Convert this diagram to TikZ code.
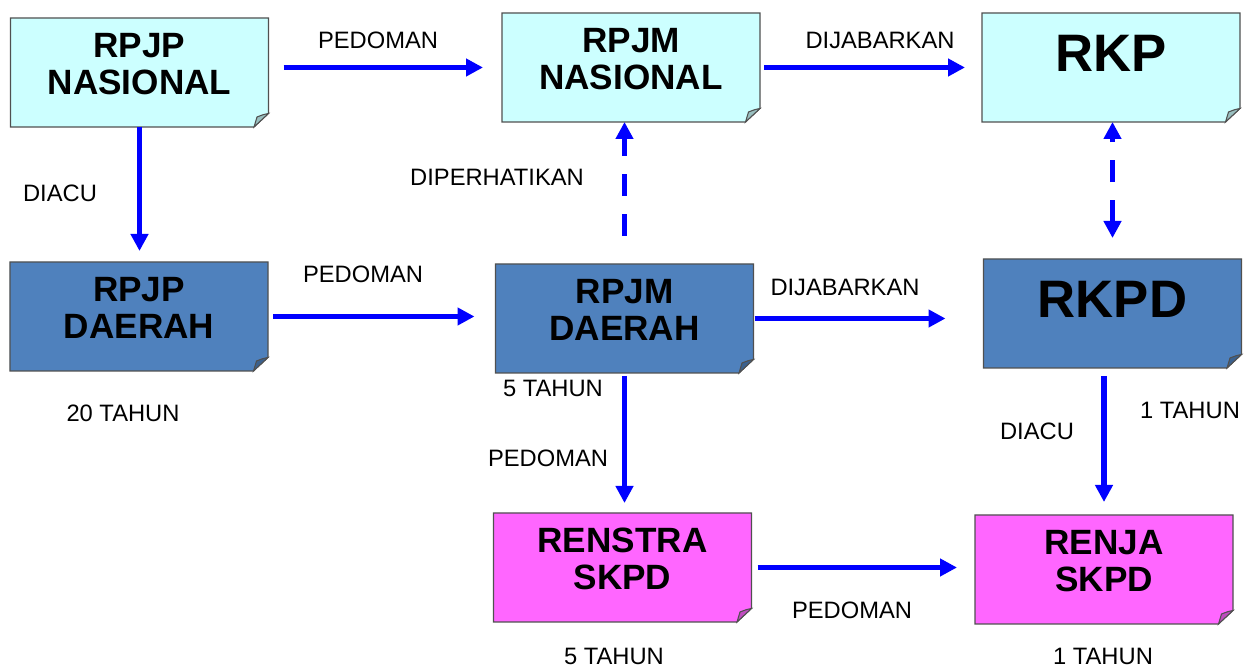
\documentclass[tikz,border=0pt]{standalone}
\usepackage{fontspec}
\setmainfont{Liberation Sans}
\usetikzlibrary{arrows.meta,backgrounds}

\definecolor{nascyan}{HTML}{CCFFFF}
\definecolor{daerahblue}{HTML}{4F81BD}
\definecolor{skpdpink}{HTML}{FF66FF}
\definecolor{edgegray}{HTML}{505050}
\definecolor{arrowblue}{HTML}{0000FF}

\newcommand{\boxlines}[2][2pt]{\raisebox{#1}[\height][\depth]{\begin{tabular}{@{}c@{}}#2\end{tabular}}}

\begin{document}
\begin{tikzpicture}[
    >={Triangle[width=0.34cm,length=0.34cm]},
    doc/.style={rectangle, minimum width=5.16cm, minimum height=2.18cm, inner sep=0pt, outer sep=0pt,
        font=\fontsize{20}{21}\selectfont\bfseries},
    bigdoc/.style={doc, font=\fontsize{30}{31}\selectfont\bfseries},
    flow/.style={->, line width=0.11cm, draw=arrowblue},
    flowdash/.style={flow, dash pattern=on 0.44cm off 0.36cm},
    lbl/.style={font=\fontsize{13.5}{15}\selectfont, inner sep=0pt}
  ]
  \useasboundingbox (0,0) rectangle (24.94,13.34);

  % dokumen perencanaan
  \node[doc] (rpjpn) at (2.79,11.89) {\boxlines{RPJP\\NASIONAL}};
  \node[doc] (rpjmn) at (12.62,11.99) {\boxlines{RPJM\\NASIONAL}};
  \node[bigdoc] (rkp) at (22.22,11.99) {\boxlines[4pt]{RKP}};
  \node[doc] (rpjpd) at (2.78,7.01) {\boxlines{RPJP\\DAERAH}};
  \node[doc] (rpjmd) at (12.49,6.97) {\boxlines{RPJM\\DAERAH}};
  \node[bigdoc] (rkpd) at (22.25,7.07) {\boxlines[4pt]{RKPD}};
  \node[doc] (renstra) at (12.45,1.99) {\boxlines{RENSTRA\\SKPD}};
  \node[doc] (renja) at (22.08,1.95) {\boxlines{RENJA\\SKPD}};

  % kertas dengan sudut terlipat
  \begin{scope}[on background layer]
    \foreach \n/\c in {rpjpn/nascyan, rpjmn/nascyan, rkp/nascyan, rpjpd/daerahblue,
        rpjmd/daerahblue, rkpd/daerahblue, renstra/skpdpink, renja/skpdpink} {
      \filldraw[fill=\c, draw=edgegray, line width=0.6pt]
        (\n.north west) -- (\n.north east) -- ([yshift=0.27cm]\n.south east)
        -- ([xshift=-0.29cm]\n.south east) -- (\n.south west) -- cycle;
      \filldraw[fill=\c!75!black, draw=edgegray, line width=0.6pt]
        ([yshift=0.27cm]\n.south east) .. controls ([xshift=-0.1cm, yshift=0.25cm]\n.south east)
        .. ([xshift=-0.23cm, yshift=0.2cm]\n.south east)
        .. controls ([xshift=-0.25cm, yshift=0.1cm]\n.south east) .. ([xshift=-0.29cm]\n.south east)
        -- cycle;
    }
  \end{scope}

  % panah
  \draw[flow, shorten <=0.3cm, shorten >=0.38cm] (rpjpn.east |- rpjmn.west) -- (rpjmn.west);
  \draw[flow, shorten <=0.08cm, shorten >=0.34cm] (rpjmn.east) -- (rkp.west);
  \draw[flow, shorten >=0.22cm] (rpjpn.south) -- (rpjpn.south |- rpjpd.north);
  \draw[flowdash, shorten <=0.56cm] (rpjmd.north) -- (rpjmd.north |- rpjmn.south);
  \draw[flowdash, <->, shorten <=0.42cm] (rkpd.north) -- (rkpd.north |- rkp.south);
  \draw[flow, shorten <=0.1cm, shorten >=0.42cm] (rpjpd.east) -- (rpjpd.east -| rpjmd.west);
  \draw[flow, shorten <=0.02cm, shorten >=0.76cm] (rpjmd.east) -- (rpjmd.east -| rkpd.west);
  \draw[flow, shorten <=0.06cm, shorten >=0.2cm] (rpjmd.south) -- (rpjmd.south |- renstra.north);
  \draw[flow, shorten <=0.16cm, shorten >=0.26cm] (renja.north |- rkpd.south) -- (renja.north);
  \draw[flow, shorten <=0.12cm, shorten >=0.36cm] (renstra.east) -- (renstra.east -| renja.west);

  % keterangan
  \node[lbl] (pedoman1) at (7.56,12.54) {PEDOMAN};
  \node[lbl] (dijabarkan1) at (17.6,12.54) {DIJABARKAN};
  \node[lbl] (diacu1) at (1.2,9.48) {DIACU};
  \node[lbl] (diperhatikan) at (9.94,9.8) {DIPERHATIKAN};
  \node[lbl] (pedoman2) at (7.26,7.86) {PEDOMAN};
  \node[lbl] (dijabarkan2) at (16.9,7.6) {DIJABARKAN};
  \node[lbl] (tahun5a) at (11.06,5.58) {5 TAHUN};
  \node[lbl] (tahun20) at (2.46,5.08) {20 TAHUN};
  \node[lbl] (pedoman3) at (10.96,4.18) {PEDOMAN};
  \node[lbl] (diacu2) at (20.74,4.72) {DIACU};
  \node[lbl] (tahun1a) at (23.8,5.14) {1 TAHUN};
  \node[lbl] (pedoman4) at (17.04,1.14) {PEDOMAN};
  \node[lbl] (tahun5b) at (12.28,0.22) {5 TAHUN};
  \node[lbl] (tahun1b) at (22.06,0.22) {1 TAHUN};
\end{tikzpicture}
\end{document}
